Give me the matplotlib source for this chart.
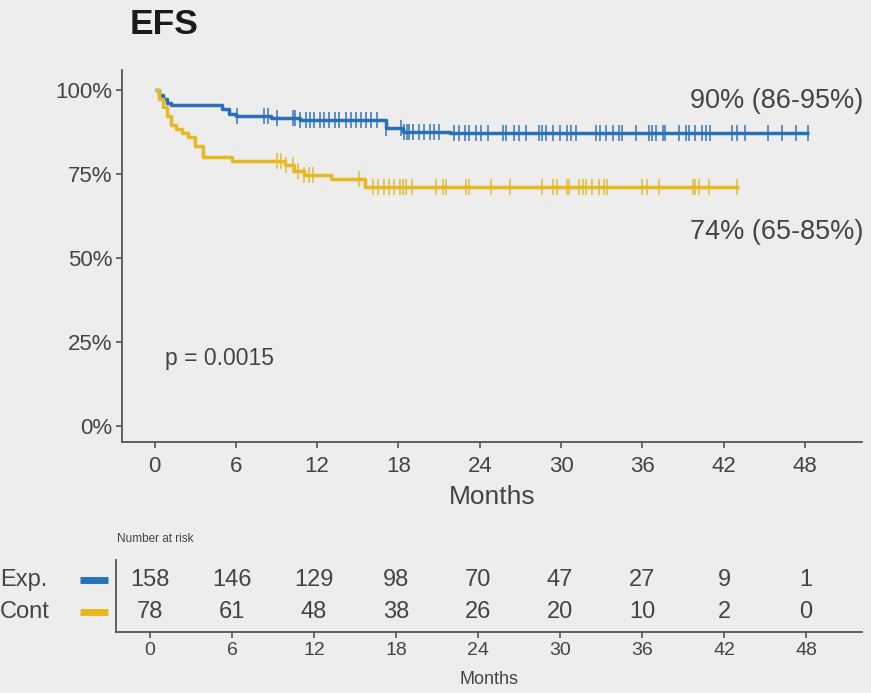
import matplotlib
matplotlib.use("Agg")
import matplotlib.pyplot as plt
from matplotlib import font_manager
import numpy as np

# ---- data -------------------------------------------------------------
# Kaplan-Meier step points (months, % event-free)
exp_times = [0, 0.3, 0.6, 0.9, 1.2, 5.0, 5.5, 6.0, 8.6, 10.7, 17.1, 18.3, 21.8]
exp_surv = [100, 98.7, 97.4, 96.2, 95.5, 94.3, 93.0, 92.2, 91.6, 91.0, 88.6, 87.6, 87.1]
exp_end = 48.3

cont_times = [0, 0.3, 0.6, 0.9, 1.2, 1.6, 2.0, 2.5, 3.0, 3.6, 5.7, 9.6, 10.3, 11.0, 13.0, 15.5]
cont_surv = [100, 97.4, 94.9, 92.3, 89.7, 88.5, 87.2, 85.9, 83.3, 80.0, 78.9, 77.6, 76.0, 74.6, 73.4, 71.3]
cont_end = 43.1

# censored observations (months)
exp_censor = [6.1, 8.1, 8.4, 9.0, 10.2, 10.4, 10.7, 11.2, 11.5, 11.8, 12.2, 12.5, 12.9,
              13.3, 13.6, 14.1, 14.5, 14.9, 15.2, 15.6, 16.0, 16.4, 17.1, 18.2, 18.4,
              18.6, 18.8, 19.1, 19.5, 19.9, 20.3, 20.6, 21.0, 22.1, 22.5, 22.9, 23.2,
              23.7, 24.1, 24.6, 25.7, 25.9, 26.5, 26.9, 27.4, 28.4, 28.6, 28.9, 29.4,
              29.9, 30.4, 30.7, 31.1, 32.6, 32.9, 33.3, 33.8, 34.3, 34.5, 35.5, 36.5,
              36.7, 37.0, 37.5, 37.7, 38.7, 39.2, 39.4, 39.9, 40.4, 40.7, 41.0, 42.6,
              43.0, 43.6, 45.3, 46.3, 47.3, 48.2]
cont_censor = [9.0, 9.3, 9.7, 10.2, 10.6, 11.0, 11.4, 11.7, 15.1, 16.1, 16.5, 16.9,
               17.3, 17.7, 18.1, 18.3, 18.55, 19.0, 20.8, 21.3, 21.5, 23.0, 23.2, 24.8,
               26.2, 28.6, 29.4, 29.7, 30.4, 30.6, 31.3, 31.6, 31.8, 32.3, 32.8, 33.2,
               33.4, 36.0, 36.3, 37.2, 39.7, 39.9, 40.2, 40.9, 43.0]

month_ticks = [0, 6, 12, 18, 24, 30, 36, 42, 48]
pct_ticks = [0, 25, 50, 75, 100]
risk_exp = [158, 146, 129, 98, 70, 47, 27, 9, 1]
risk_cont = [78, 61, 48, 38, 26, 20, 10, 2, 0]
group_names = ["Exp.", "Cont"]

BLUE = "#2a70b8"
YELLOW = "#e6b923"
BG = "#ededed"
TXT = "#444444"
SPINE = "#555555"

names = {f.name for f in font_manager.fontManager.ttflist}
main_font = "Liberation Sans" if "Liberation Sans" in names else "DejaVu Sans"
plt.rcParams["font.family"] = [main_font, "DejaVu Sans"]

fig = plt.figure(figsize=(8.71, 6.93), dpi=100, facecolor=BG)
W, H = 871, 693


def ax_rect(x0, y0, x1, y1):
    return [x0 / W, 1 - y1 / H, (x1 - x0) / W, (y1 - y0) / H]


# ---- survival curves --------------------------------------------------
ax = fig.add_axes(ax_rect(122, 70, 862, 442), facecolor=BG)
ax.set_xlim(-2.4, 52.2)
ax.set_ylim(-4.8, 106)


def km_step(times, surv, end):
    t = list(times) + [end]
    s = list(surv) + [surv[-1]]
    return t, s


def surv_at(times, surv, x):
    idx = np.searchsorted(times, x, side="right") - 1
    return np.asarray(surv)[idx]


for times, surv, end, cens, col in [
    (exp_times, exp_surv, exp_end, exp_censor, BLUE),
    (cont_times, cont_surv, cont_end, cont_censor, YELLOW),
]:
    t, s = km_step(times, surv, end)
    ax.step(t, s, where="post", color=col, lw=2.5, solid_capstyle="butt", zorder=3)
    ax.plot(cens, surv_at(times, surv, cens), ls="none", marker="|",
            ms=12, mew=1.4, color=col, alpha=0.75, zorder=4)

ax.set_xticks(month_ticks)
ax.set_xticklabels([str(m) for m in month_ticks], fontsize=16, color=TXT)
ax.set_yticks(pct_ticks)
ax.set_yticklabels([f"{p}%" for p in pct_ticks], fontsize=16, color=TXT)
ax.tick_params(axis="both", colors=SPINE, length=4, width=1.2, labelcolor=TXT, pad=3)
ax.tick_params(axis="x", pad=6)
ax.set_xlabel("Months", fontsize=19, color=TXT, labelpad=6)
for side in ["top", "right"]:
    ax.spines[side].set_visible(False)
for side in ["left", "bottom"]:
    ax.spines[side].set_color(SPINE)
    ax.spines[side].set_linewidth(1.3)

ax.text(0.8, 20, "p = 0.0015", fontsize=16.5, color=TXT, va="center", ha="left")
ax.text(52.3, 96.8, "90% (86-95%)", fontsize=19.5, color=TXT, va="center", ha="right")
ax.text(52.3, 57.6, "74% (65-85%)", fontsize=19.5, color=TXT, va="center", ha="right")

fig.text(130 / W, 1 - 25 / H, "EFS", fontsize=25.5, fontweight="bold",
         color="#1a1a1a", va="center", ha="left")

# ---- number at risk table ---------------------------------------------
rt = fig.add_axes(ax_rect(116, 560, 862, 632), facecolor=BG)
rt.set_xlim(-2.49, 52.1)
rt.set_ylim(0, 2)
for m, n in zip(month_ticks, risk_exp):
    rt.text(m, 1.45, str(n), ha="center", va="center", fontsize=17, color=TXT)
for m, n in zip(month_ticks, risk_cont):
    rt.text(m, 0.55, str(n), ha="center", va="center", fontsize=17, color=TXT)
rt.set_xticks(month_ticks)
rt.set_xticklabels([str(m) for m in month_ticks], fontsize=14)
rt.set_yticks([])
rt.tick_params(axis="x", colors=SPINE, length=4, width=1.2, labelcolor=TXT, pad=3)
rt.set_xlabel("Months", fontsize=13, color=TXT, labelpad=9)
for side in ["top", "right"]:
    rt.spines[side].set_visible(False)
for side in ["left", "bottom"]:
    rt.spines[side].set_color(SPINE)
    rt.spines[side].set_linewidth(1.3)

fig.text(117 / W, 1 - 539 / H, "Number at risk", fontsize=8.5, color=TXT,
         va="center", ha="left")

for name, col, y in [(group_names[0], BLUE, 580), (group_names[1], YELLOW, 612)]:
    fig.text(0 / W, 1 - y / H, name, fontsize=17, color=TXT, va="center", ha="left")
    fig.add_artist(plt.Line2D([80 / W, 108 / W], [1 - y / H, 1 - y / H],
                              color=col, lw=5, solid_capstyle="butt"))

fig.savefig("out.png", dpi=100, facecolor=BG)
